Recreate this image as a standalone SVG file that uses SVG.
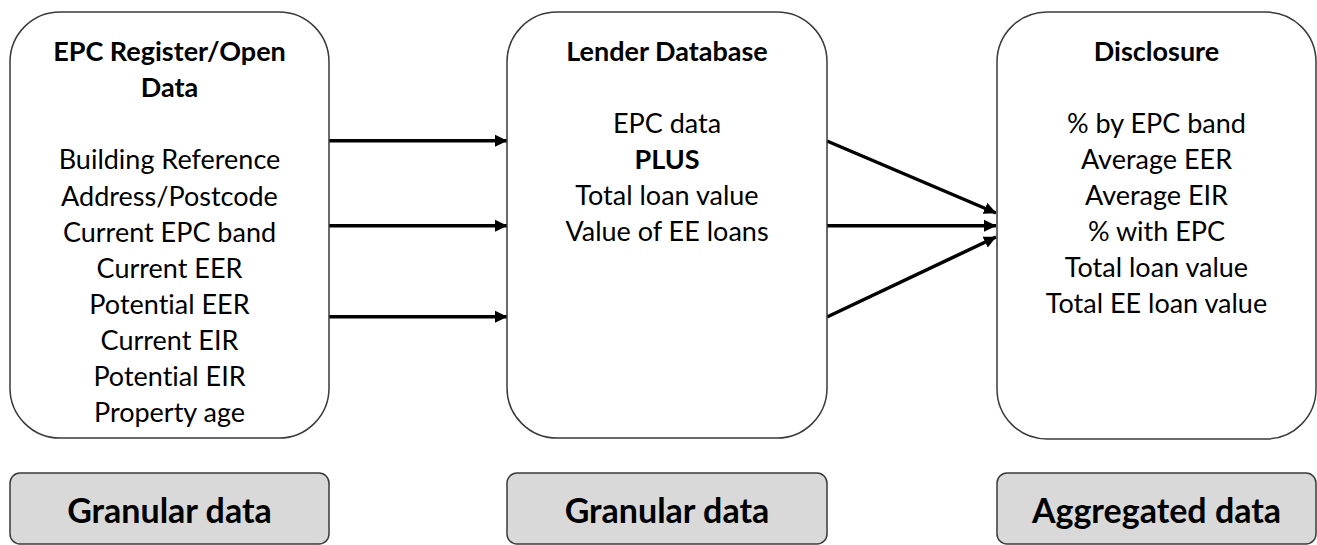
<svg xmlns="http://www.w3.org/2000/svg" width="1317" height="545" viewBox="0 0 1317 545">
<style>
.box{fill:#ffffff;stroke:#3a3a3a;stroke-width:1.5}
.tag{fill:#d9d9d9;stroke:#3a3a3a;stroke-width:1.5}
text{font-family:Lato,"Liberation Sans",sans-serif;fill:#000;text-anchor:middle;font-variant-ligatures:none}
.t{font-size:27px}
.h{font-size:27px;font-weight:bold}
.g{font-size:34px;font-weight:bold}
.c{stroke:#000;stroke-width:3.5;fill:none;marker-end:url(#ah)}
</style>
<defs>
<marker id="ah" markerUnits="userSpaceOnUse" markerWidth="13" markerHeight="13" viewBox="0 0 13 13" refX="12" refY="6.5" orient="auto">
<path d="M0,0.5 L12.5,6.5 L0,12.5 Z" fill="#000"/>
</marker>
</defs>
<g id="connectors">
<line class="c" x1="329" y1="140.7" x2="507" y2="140.7"/>
<line class="c" x1="329" y1="225.7" x2="507" y2="225.7"/>
<line class="c" x1="329" y1="316.7" x2="507" y2="316.7"/>
<line class="c" x1="827" y1="141" x2="996" y2="213"/>
<line class="c" x1="827" y1="225.7" x2="996" y2="225.7"/>
<line class="c" x1="827" y1="317" x2="996" y2="237"/>
</g>
<g id="epc-register">
<rect class="box" x="10" y="12" width="319" height="426" rx="50" ry="50"/>
<text class="h" x="169.5" y="61">EPC Register/Open</text>
<text class="h" x="169.5" y="97">Data</text>
<text class="t" x="169.5" y="169">Building Reference</text>
<text class="t" x="169.5" y="205.5">Address/Postcode</text>
<text class="t" x="169.5" y="241.7">Current EPC band</text>
<text class="t" x="169.5" y="278">Current EER</text>
<text class="t" x="169.5" y="314">Potential EER</text>
<text class="t" x="169.5" y="350">Current EIR</text>
<text class="t" x="169.5" y="386">Potential EIR</text>
<text class="t" x="169.5" y="422">Property age</text>
</g>
<g id="lender-database">
<rect class="box" x="507" y="12" width="320" height="426" rx="50" ry="50"/>
<text class="h" x="667" y="61">Lender Database</text>
<text class="t" x="667" y="133">EPC data</text>
<text class="h" x="667" y="169">PLUS</text>
<text class="t" x="667" y="205">Total loan value</text>
<text class="t" x="667" y="241">Value of EE loans</text>
</g>
<g id="disclosure">
<rect class="box" x="997" y="12" width="319" height="427" rx="50" ry="50"/>
<text class="h" x="1156.5" y="61">Disclosure</text>
<text class="t" x="1156.5" y="133">% by EPC band</text>
<text class="t" x="1156.5" y="168.5">Average EER</text>
<text class="t" x="1156.5" y="204.5">Average EIR</text>
<text class="t" x="1156.5" y="240.5">% with EPC</text>
<text class="t" x="1156.5" y="277">Total loan value</text>
<text class="t" x="1156.5" y="313">Total EE loan value</text>
</g>
<g id="tag-granular-1">
<rect class="tag" x="10" y="473" width="319" height="71" rx="10" ry="10"/>
<text class="g" x="169.5" y="523">Granular data</text>
</g>
<g id="tag-granular-2">
<rect class="tag" x="507" y="473" width="320" height="71" rx="10" ry="10"/>
<text class="g" x="667" y="523">Granular data</text>
</g>
<g id="tag-aggregated">
<rect class="tag" x="997" y="473" width="319" height="71" rx="10" ry="10"/>
<text class="g" x="1156.5" y="523">Aggregated data</text>
</g>
</svg>
